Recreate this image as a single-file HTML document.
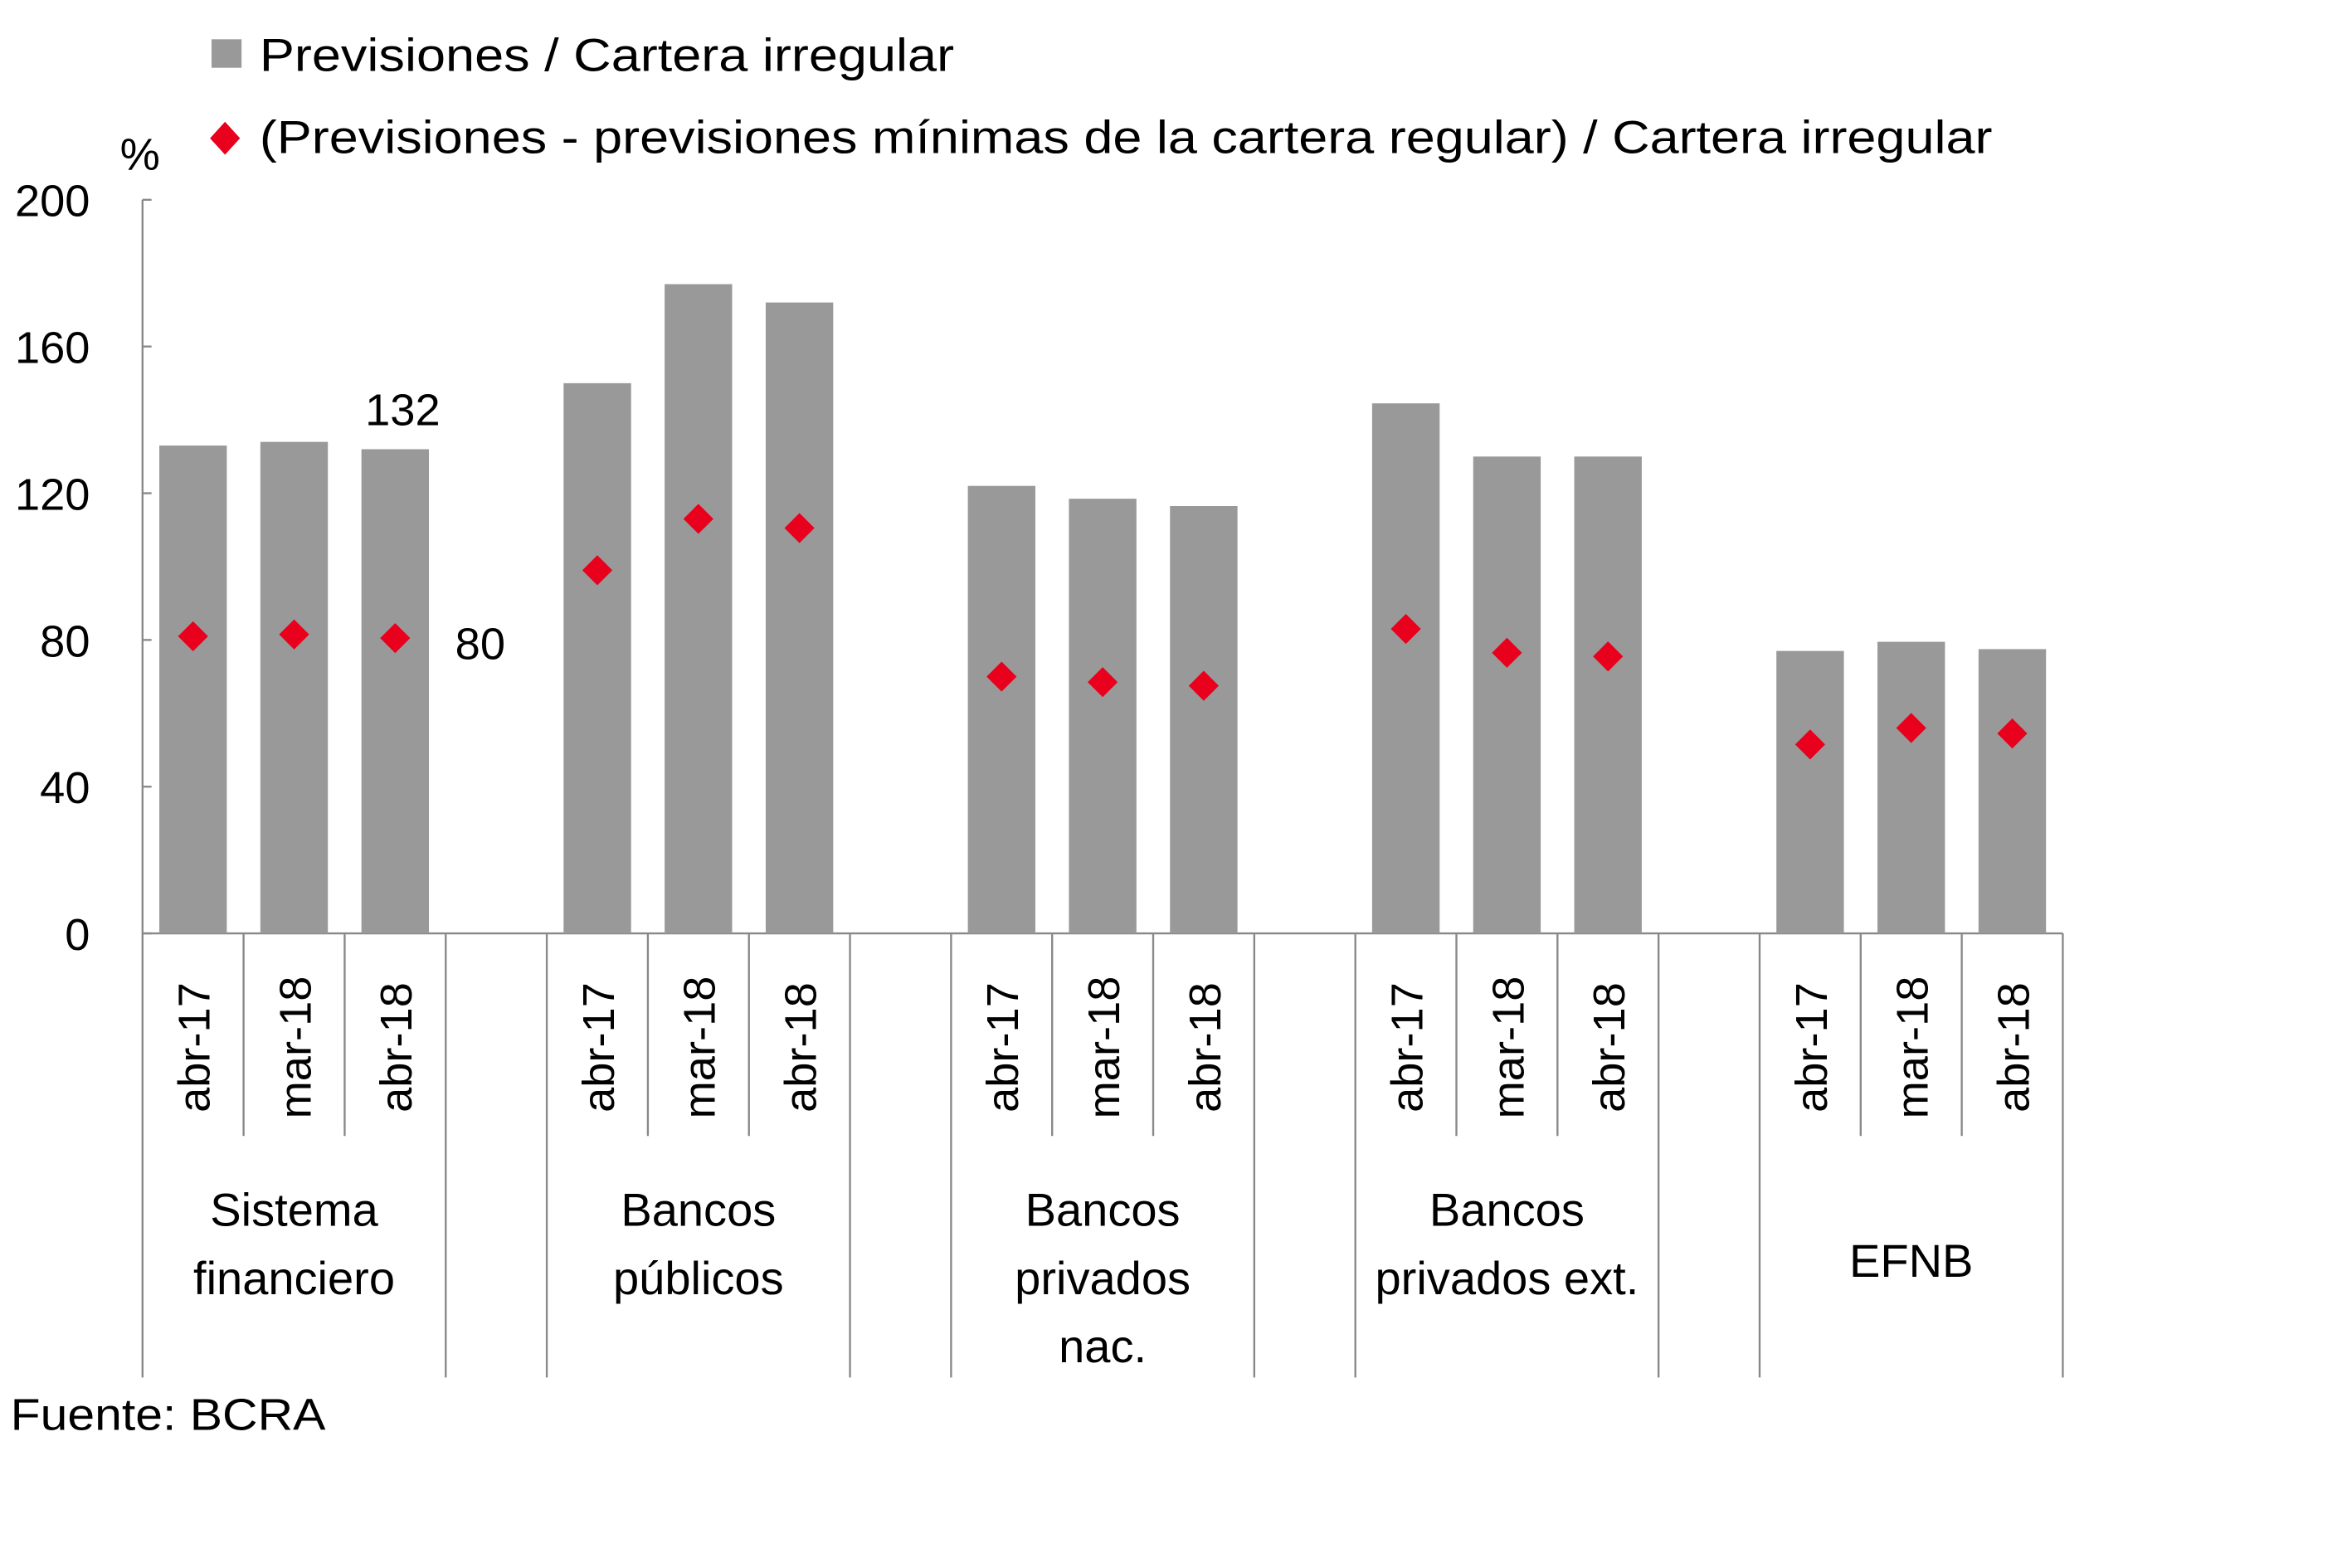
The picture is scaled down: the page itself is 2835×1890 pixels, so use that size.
<!DOCTYPE html>
<html><head><meta charset="utf-8"><style>
html,body{margin:0;padding:0;background:#fff;}
svg{display:block;font-family:"Liberation Sans",sans-serif;}
</style></head><body>
<svg id="chart" width="2835" height="1890" viewBox="0 0 1556 1037" xmlns="http://www.w3.org/2000/svg">
<g transform="scale(0.9925)">
<g id="legend">
<rect x="141" y="26" width="20" height="19" fill="#999"/>
<text x="173" y="47" font-size="31" textLength="463" lengthAdjust="spacingAndGlyphs" fill="#000">Previsiones / Cartera irregular</text>
<path d="M150 81 L160 92 L150 103 L140 92 Z" fill="#e8001c"/>
<text x="173" y="102" font-size="31" textLength="1155" lengthAdjust="spacingAndGlyphs" fill="#000">(Previsiones - previsiones mínimas de la cartera regular) / Cartera irregular</text>
</g>
<text x="80" y="113" font-size="30">%</text>
<g id="axes"></g>
<g id="marks"></g>
<text x="7" y="953" font-size="30" textLength="210" lengthAdjust="spacingAndGlyphs">Fuente: BCRA</text>
</g>
</svg>
<script>
const groups = ["Sistema financiero","Bancos públicos","Bancos privados nac.","Bancos privados ext.","EFNB"];
const groupLines = [["Sistema","financiero"],["Bancos","públicos"],["Bancos","privados","nac."],["Bancos","privados ext."],["EFNB"]];
const periods = ["abr-17","mar-18","abr-18"];
const barValues = [133,134,132, 150,177,172, 122,118.5,116.5, 144.5,130,130, 77,79.5,77.5];
const diamondValues = [81,81.5,80.5, 99,113,110.5, 70,68.5,67.5, 83,76.5,75.5, 51.5,56,54.5];
const yTicks = [0,40,80,120,160,200];
const annotations = ["132","80"];

const NS="http://www.w3.org/2000/svg";
const x0=95,x1=1375,y0=622,yTop=133,nSlots=19,slot=(x1-x0)/nSlots;
const yS=v=>y0-(v/200)*(y0-yTop);
const slotIndex=i=>Math.floor(i/3)*4+(i%3);
const xC=i=>x0+(slotIndex(i)+0.5)*slot;
function mk(tag,attrs,parent,txt){const e=document.createElementNS(NS,tag);for(const k in attrs)e.setAttribute(k,attrs[k]);if(txt!==undefined)e.textContent=txt;parent.appendChild(e);return e;}
const ax=document.getElementById('axes'),mg=document.getElementById('marks');
let e=mk('line',{x1:x0,y1:yTop,x2:x0,y2:918,stroke:'#888','stroke-width':1.3},ax);


e=mk('line',{x1:x0,y1:y0,x2:x1,y2:y0,stroke:'#888','stroke-width':1.3},ax);


yTicks.forEach(t=>{
  const y=yS(t);
  let l=mk('line',{x1:x0,y1:y,x2:x0+6,y2:y,stroke:'#888','stroke-width':1.3},ax);
  
  
  let tx=mk('text',{x:60,y:y+11,'font-size':30,'text-anchor':'end'},ax,String(t));
  
  
});
for(let s=1;s<=nSlots;s++){
  const x=x0+s*slot;
  const inGroup=(s%4===1||s%4===2);
  let l=mk('line',{x1:x,y1:y0,x2:x,y2:inGroup?757:918,stroke:'#888','stroke-width':1.3},ax);
  
  
}
barValues.forEach((v,i)=>{
  const xc=xC(i);
  let r=mk('rect',{x:xc-22.5,y:yS(v),width:45,height:y0-yS(v),fill:'#999'},mg);
  
  
  let t=mk('text',{transform:`translate(${xc+11},${y0+76}) rotate(-90)`,'font-size':30,'text-anchor':'middle'},ax,periods[i%3]);
  
  
});
diamondValues.forEach((v,i)=>{
  const xc=xC(i),y=yS(v);
  let d=mk('path',{d:`M${xc} ${y-10} L${xc+10} ${y} L${xc} ${y+10} L${xc-10} ${y} Z`,fill:'#e8001c'},mg);
  
  
});
groupLines.forEach((lines,g)=>{
  const xc=x0+(g*4+1.5)*slot;
  const startY=lines.length===1?851:817;
  lines.forEach((ln,k)=>{
    let t=mk('text',{x:xc,y:startY+k*45.5,'font-size':31,'text-anchor':'middle'},ax,ln);
    
    
  });
});
e=mk('text',{x:xC(2)+5,y:yS(barValues[2])-16,'font-size':30,'text-anchor':'middle'},mg,annotations[0]);


e=mk('text',{x:xC(2)+40,y:yS(diamondValues[2])+14,'font-size':30},mg,annotations[1]);


</script>
</body></html>
